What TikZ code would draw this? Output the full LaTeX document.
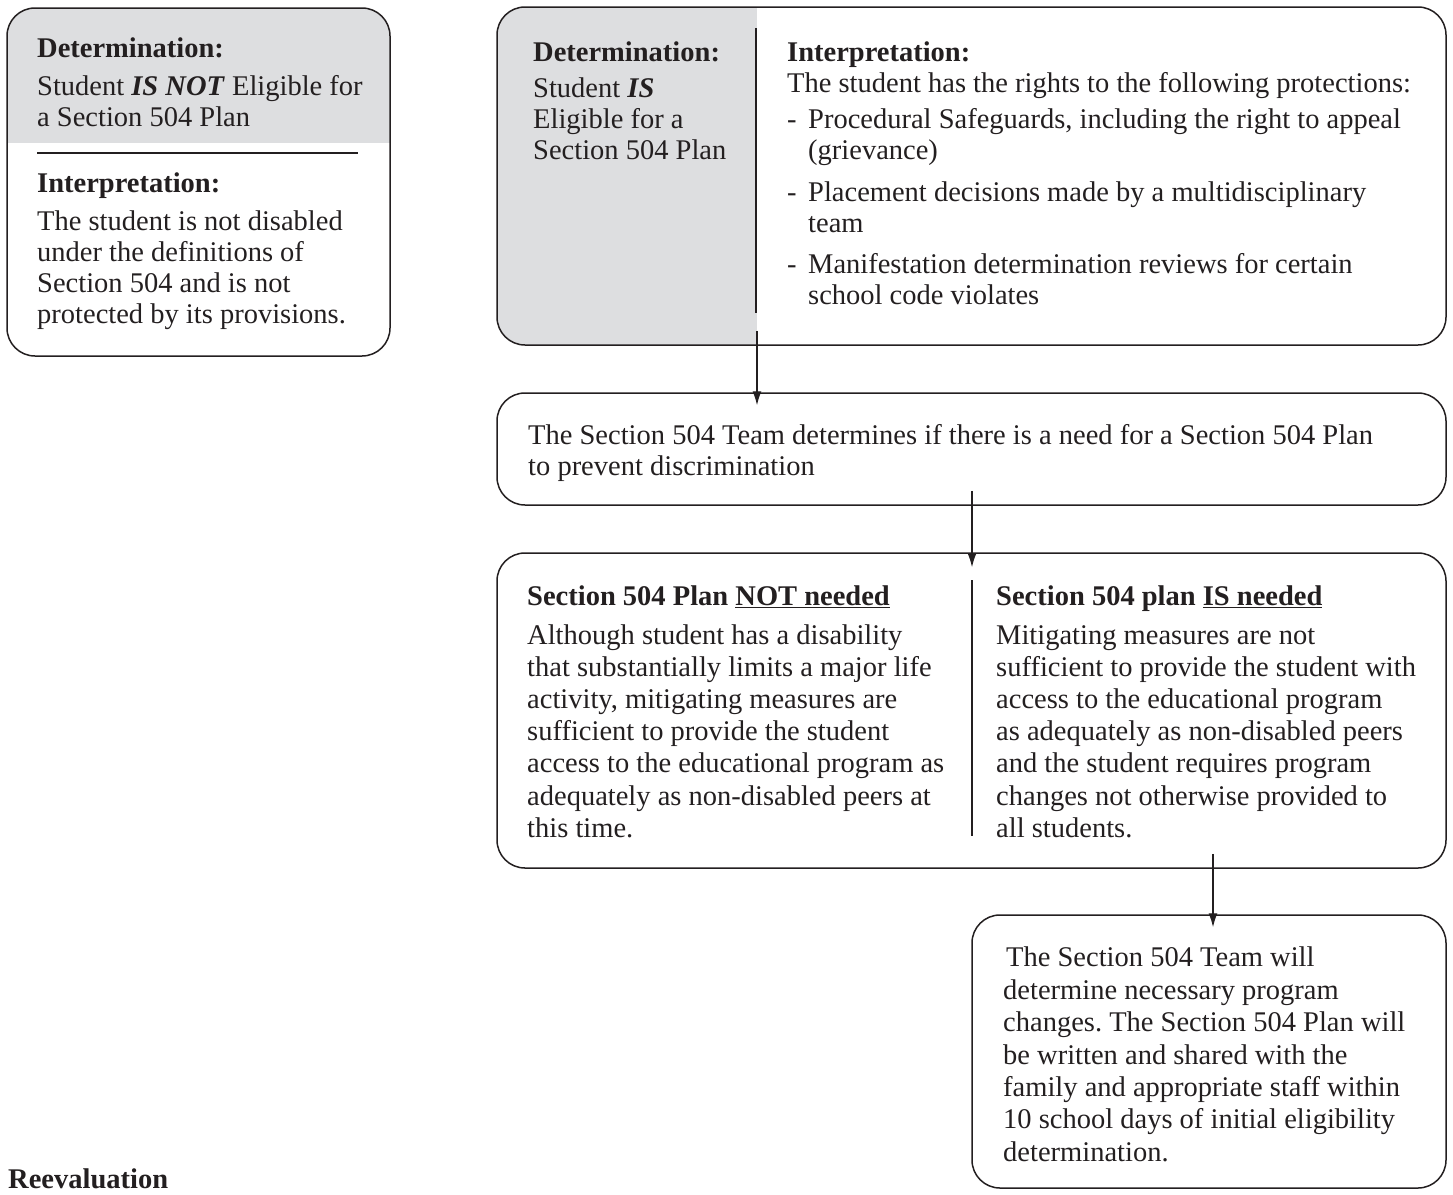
\documentclass[tikz,border=0pt]{standalone}
\usepackage{fontspec}
\setmainfont{Liberation Serif}
\usetikzlibrary{calc,arrows.meta}
\definecolor{ink}{RGB}{35,31,32}
\definecolor{boxgray}{RGB}{221,222,224}

\begin{document}
\frenchspacing
\begin{tikzpicture}[x=1pt,y=-1pt,color=ink,>={Latex[length=14pt,width=9pt]},
    box/.style={draw, rounded corners=28pt, line width=1.5pt, inner sep=0pt},
    txt/.style={anchor=north west, yshift=19pt, align=left, inner sep=0pt,
      execute at begin node={\rule{0pt}{24pt}}, font=\fontsize{28.5}{31}\selectfont},
    rule/.style={line width=1.3pt},
    flow/.style={->, line width=1.3pt}]

\useasboundingbox (0,0) rectangle (1453,1194);

% boxes
\node[box, minimum width=383, minimum height=348,
  path picture={\fill[boxgray, sharp corners] (path picture bounding box.north west) rectangle ([yshift=-135pt]path picture bounding box.north east);}]
  (notelig) at (198.5,182) {};
\node[box, minimum width=949, minimum height=338,
  path picture={\fill[boxgray, sharp corners] (path picture bounding box.north west) rectangle ([xshift=260pt]path picture bounding box.south west);}]
  (elig) at (971.5,176) {};
\node[box, minimum width=949, minimum height=112] (need) at (971.5,449) {};
\node[box, minimum width=949, minimum height=315] (plan) at (971.5,710.5) {};
\node[box, minimum width=474, minimum height=273] (team) at (1209,1051.5) {};

% dividers
\coordinate (eligdiv) at (756,28);
\coordinate (plandiv) at (972,580);
\draw[rule] (37,153) -- (358,153);
\draw[rule] (eligdiv) -- (756,313);
\draw[rule] (plandiv) -- (972,836);

% texts
\node[txt, yshift=3pt] (notdet) at (37,60) {\textbf{Determination:}\\[7pt]
  Student \textbf{\textit{IS NOT}} Eligible for\\
  a Section 504 Plan};
\node[txt] (notint) at (37,192) {\textbf{Interpretation:}\\[7pt]
  The student is not disabled\\
  under the definitions of\\
  Section 504 and is not\\
  protected by its provisions.};

\node[txt] (eligdet) at (533,61) {\textbf{Determination:}\\[5pt]
  Student \textbf{\textit{IS}}\\
  Eligible for a\\
  Section 504 Plan};
\node[txt, font=\fontsize{28.5}{30.5}\selectfont] (eligint) at (787,61) {\textbf{Interpretation:}\\
  The student has the rights to the following protections:\\[6pt]
  \makebox[21pt][l]{-}Procedural Safeguards, including the right to appeal\\
  \hspace*{21pt}(grievance)\\[12pt]
  \makebox[21pt][l]{-}Placement decisions made by a multidisciplinary\\
  \hspace*{21pt}team\\[11pt]
  \makebox[21pt][l]{-}Manifestation determination reviews for certain\\
  \hspace*{21pt}school code violates};

\node[txt] (needtxt) at (528,443) {The Section 504 Team determines if there is a need for a Section 504 Plan\\
  to prevent discrimination};

\node[txt, font=\fontsize{28.5}{32.2}\selectfont] (notneed) at (527,605) {\textbf{Section 504 Plan \underline{NOT needed}}\\[6pt]
  Although student has a disability\\
  that substantially limits a major life\\
  activity, mitigating measures are\\
  sufficient to provide the student\\
  access to the educational program as\\
  adequately as non-disabled peers at\\
  this time.};
\node[txt, font=\fontsize{28.5}{32.2}\selectfont] (isneed) at (996,605) {\textbf{Section 504 plan \underline{IS needed}}\\[6pt]
  Mitigating measures are not\\
  sufficient to provide the student with\\
  access to the educational program\\
  as adequately as non-disabled peers\\
  and the student requires program\\
  changes not otherwise provided to\\
  all students.};

\node[txt, font=\fontsize{28.5}{32.4}\selectfont] (teamtxt) at (1003,966) {\hspace*{3pt}The Section 504 Team will\\
  determine necessary program\\
  changes. The Section 504 Plan will\\
  be written and shared with the\\
  family and appropriate staff within\\
  10 school days of initial eligibility\\
  determination.};

\node[txt, yshift=5pt] (reeval) at (8,1188) {\textbf{Reevaluation}};

% arrows
\draw[flow] ($(eligdiv |- elig.south)+(1,-15)$) -- ($(eligdiv |- need.north)+(1,13)$);
\draw[flow] ($(plandiv |- need.south)+(0,-15)$) -- ($(plandiv |- plan.north)+(0,15)$);
\draw[flow] ($(team.north |- plan.south)+(4,-15)$) -- ($(team.north)+(4,13)$);

\end{tikzpicture}
\end{document}
